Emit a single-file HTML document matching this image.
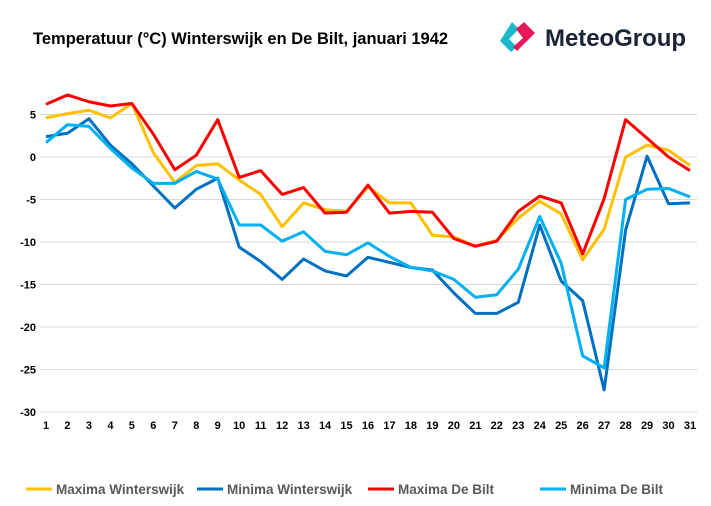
<!DOCTYPE html>
<html><head><meta charset="utf-8"><style>
body{margin:0;background:#fff;font-family:"Liberation Sans",Arial,sans-serif}
svg{display:block}
</style></head><body>
<svg id="chart" width="711" height="506" xmlns="http://www.w3.org/2000/svg">
<text x="33" y="44" font-size="16.5" font-weight="bold" fill="#000">Temperatuur (°C) Winterswijk en De Bilt, januari 1942</text>
<g>
<path d="M512 22 L519 29 L509 39 L517 47 L511 52 L500 41 Z" fill="#1cb8cc"/>
<path d="M524 22 L535 33 L524 44 L517 51 L513 47 L523 38 L516 29 Z" fill="#e8195a"/>
<text x="545" y="46" font-size="24" font-weight="bold" fill="#1a2338" textLength="141">MeteoGroup</text>
</g>
<g id="grid"></g><g id="lines"></g><g id="legend"></g>
</svg>
<script>
const days=[];for(let d=1;d<=31;d++)days.push(d);
const yTicks=[5,0,-5,-10,-15,-20,-25,-30];
const maxWinterswijk=[4.6,5.1,5.5,4.6,6.3,0.5,-3,-1,-0.8,-2.7,-4.4,-8.2,-5.4,-6.2,-6.4,-3.5,-5.4,-5.4,-9.2,-9.4,-10.5,-9.8,-7.2,-5.2,-6.7,-12.1,-8.5,0,1.4,0.8,-1];
const minWinterswijk=[2.4,2.8,4.5,1.4,-0.8,-3.4,-6,-3.8,-2.5,-10.6,-12.3,-14.4,-12,-13.4,-14,-11.8,-12.4,-13,-13.3,-16,-18.4,-18.4,-17.1,-8,-14.6,-16.9,-27.4,-8.6,0.1,-5.5,-5.4];
const maxDeBilt=[6.2,7.3,6.5,6,6.3,2.7,-1.5,0.2,4.4,-2.4,-1.6,-4.4,-3.6,-6.6,-6.5,-3.3,-6.6,-6.4,-6.5,-9.6,-10.5,-9.9,-6.4,-4.6,-5.4,-11.4,-4.9,4.4,2.2,0,-1.6];
const minDeBilt=[1.7,3.8,3.6,1,-1.3,-3.1,-3.1,-1.7,-2.6,-8,-8,-9.9,-8.8,-11.1,-11.5,-10.1,-11.7,-13,-13.4,-14.4,-16.5,-16.2,-13.2,-7,-12.5,-23.4,-24.8,-5,-3.8,-3.7,-4.7];
const seriesNames=["Maxima Winterswijk","Minima Winterswijk","Maxima De Bilt","Minima De Bilt"];
const NS="http://www.w3.org/2000/svg";
const X=d=>46+(d-1)*(690-46)/30;
const Y=v=>157-v*8.5;
const grid=document.getElementById('grid');
yTicks.forEach(t=>{
 const l=document.createElementNS(NS,'line');
 l.setAttribute('x1',40);l.setAttribute('x2',697);l.setAttribute('y1',Y(t));l.setAttribute('y2',Y(t));
 l.setAttribute('stroke','#d9d9d9');l.setAttribute('stroke-width','1');
 
 
 grid.appendChild(l);
 const tx=document.createElementNS(NS,'text');
 tx.setAttribute('x',36);tx.setAttribute('y',Y(t)+4);tx.setAttribute('text-anchor','end');
 tx.setAttribute('font-size','11');tx.setAttribute('font-weight','bold');tx.textContent=t;
 
 
 grid.appendChild(tx);
});
days.forEach(d=>{
 const tx=document.createElementNS(NS,'text');
 tx.setAttribute('x',X(d));tx.setAttribute('y',429);tx.setAttribute('text-anchor','middle');
 tx.setAttribute('font-size','11');tx.setAttribute('font-weight','bold');tx.textContent=d;
 
 
 grid.appendChild(tx);
});
const series=[[maxWinterswijk,'#ffc000'],[minWinterswijk,'#0070c0'],[maxDeBilt,'#ff0000'],[minDeBilt,'#00b0f0']];
const lines=document.getElementById('lines');
series.forEach(([vals,c],i)=>{
 const p=document.createElementNS(NS,'polyline');
 p.setAttribute('points',vals.map((v,j)=>X(days[j])+','+Y(v)).join(' '));
 p.setAttribute('fill','none');p.setAttribute('stroke',c);p.setAttribute('stroke-width','3');p.setAttribute('stroke-linejoin','round');
 
 
 lines.appendChild(p);
});
const legX=[26,197,368,540];
const legend=document.getElementById('legend');
series.forEach(([v,c],i)=>{
 const l=document.createElementNS(NS,'line');
 l.setAttribute('x1',legX[i]);l.setAttribute('x2',legX[i]+26);l.setAttribute('y1',489);l.setAttribute('y2',489);
 l.setAttribute('stroke',c);l.setAttribute('stroke-width','3');
 
 
 legend.appendChild(l);
 const tx=document.createElementNS(NS,'text');
 tx.setAttribute('x',legX[i]+30);tx.setAttribute('y',494);tx.setAttribute('font-size','13.5');tx.setAttribute('font-weight','bold');
 tx.setAttribute('fill','#595959');tx.textContent=seriesNames[i];
 
 
 legend.appendChild(tx);
});
</script>
</body></html>
